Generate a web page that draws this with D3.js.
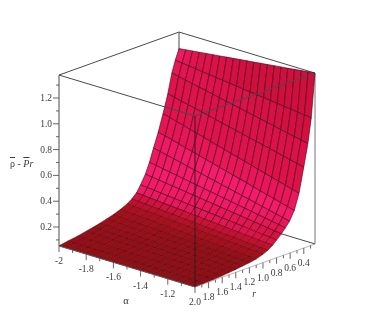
<!DOCTYPE html>
<html><head><meta charset="utf-8">
<script src="https://cdnjs.cloudflare.com/ajax/libs/d3/7.8.5/d3.min.js"></script>
<style>html,body{margin:0;background:#fff}svg{display:block}text{font-family:"Liberation Serif",serif;fill:#3a3a3a}</style>
</head><body><svg id="c" width="374" height="323"></svg>
<script>
const alphaGrid = [-2,-1.95,-1.9,-1.85,-1.8,-1.75,-1.7,-1.65,-1.6,-1.55,-1.5,-1.45,-1.4,-1.35,-1.3,-1.25,-1.2,-1.15,-1.1,-1.05,-1];
const rGrid = [0.235,0.29,0.34,0.40,0.47,0.54,0.61,0.67,0.73,0.80,0.86,0.93,1.00,1.10,1.20,1.30,1.40,1.50,1.60,1.73,1.87,2.00];
// surface height x 1000, one row per rGrid entry, one column per alphaGrid entry
const surfaceMilli = [
[1250,1256,1263,1269,1276,1282,1288,1295,1301,1308,1314,1320,1327,1333,1340,1346,1352,1359,1365,1372,1378],
[1170,1164,1157,1151,1144,1138,1131,1125,1118,1112,1105,1099,1092,1086,1079,1073,1066,1060,1053,1047,1040],
[1080,1069,1057,1046,1034,1023,1011,1000,988,977,965,954,942,931,919,908,896,885,873,862,850],
[930,918,905,893,880,868,855,843,830,818,805,793,780,768,755,743,730,718,705,693,680],
[790,775,760,745,730,715,700,685,670,655,640,625,610,595,580,565,550,535,520,505,490],
[660,646,631,617,602,588,573,559,544,530,515,501,486,472,457,443,428,414,399,385,370],
[550,538,525,513,500,488,475,463,450,438,425,413,400,388,375,363,350,338,325,313,300],
[450,441,431,422,412,403,393,384,374,365,355,346,336,327,317,308,298,289,279,270,260],
[370,363,356,348,341,334,327,319,312,305,298,290,283,276,269,261,254,247,240,232,225],
[300,295,289,284,278,273,267,262,256,251,245,240,234,229,223,218,212,207,201,196,190],
[250,246,241,237,232,228,223,219,214,210,205,201,196,192,187,183,178,174,169,165,160],
[215,211,207,203,199,195,191,187,183,179,175,171,167,163,159,155,151,147,143,139,135],
[190,186,183,179,176,172,168,165,161,158,154,150,147,143,140,136,132,129,125,122,118],
[165,162,159,155,152,149,146,142,139,136,133,129,126,123,120,116,113,110,107,103,100],
[145,142,140,137,134,131,129,126,123,120,118,115,112,109,107,104,101,98,96,93,90],
[130,128,125,123,121,118,116,114,111,109,107,104,102,100,97,95,92,90,88,85,83],
[115,113,111,109,107,105,103,101,99,97,96,94,92,90,88,86,84,82,80,78,76],
[103,101,100,98,96,95,93,91,90,88,87,85,83,82,80,78,77,75,73,72,70],
[92,91,89,88,86,85,84,82,81,79,78,77,75,74,72,71,70,68,67,65,64],
[78,77,76,75,74,73,72,71,70,69,68,68,67,66,65,64,63,62,61,60,59],
[66,66,65,65,64,64,63,63,62,62,61,61,60,60,59,59,58,58,57,57,56],
[55,55,55,55,55,55,54,54,54,54,54,54,54,54,54,54,53,53,53,53,53]
];
const alphaMajor = [-2,-1.8,-1.6,-1.4,-1.2];
const alphaMinor = [-1.9,-1.7,-1.5,-1.3,-1.1];
const rMajor = [2.0,1.8,1.6,1.4,1.2,1.0,0.8,0.6,0.4];
const rMinor = [1.9,1.7,1.5,1.3,1.1,0.9,0.7,0.5,0.3];
const zMajor = [0.2,0.4,0.6,0.8,1.0,1.2];
const zMinor = [0.1,0.3,0.5,0.7,0.9,1.1,1.3];
const alphaRange = [-2,-1], rRange = [2,0.235], zRange = [0.053,1.378];

const xA = d3.scaleLinear().domain(alphaRange).range([59,195]);
const yA = d3.scaleLinear().domain(alphaRange).range([0,41]);
const xR = d3.scaleLinear().domain(rRange).range([0,120]);
const yR = d3.scaleLinear().domain(rRange).range([0,-43]);
const yZ = d3.scaleLinear().domain([0.2,1.2]).range([227,98]);
const P = (a,r,z)=>[xA(a)+xR(r), yA(a)+yR(r)+yZ(z)];

const shade = d3.scaleLinear()
  .domain([0,0.1,0.2,0.32,0.45,0.6,0.85,1.3,2,4])
  .range(["#8e0f15","#960f17","#a5101c","#b81028","#cc1238","#e0164e","#f01a64","#f51d6c","#e2144f","#cf0f3c"])
  .clamp(true);

const svg = d3.select("#c");
const root = svg.append("g").style("filter","blur(0.4px)");
const boxColor = "#4a4a4a";
function seg(p,q,c=boxColor,w=1){root.append("line").attr("x1",p[0]).attr("y1",p[1]).attr("x2",q[0]).attr("y2",q[1]).attr("stroke",c).attr("stroke-width",w);}

const [aL,aH]=alphaRange,[r0,r1]=rRange,[zB,zT]=zRange;
seg(P(aL,r1,zT),P(aL,r1,zB));
seg(P(aL,r0,zT),P(aL,r1,zT));
seg(P(aL,r1,zT),P(aH,r1,zT));
seg(P(aL,r1,zB),P(aH,r1,zB));
seg(P(aH,r1,zT),P(aH,r1,zB),"#777");

const cells=[];
for(let i=0;i<rGrid.length-1;i++)for(let j=0;j<alphaGrid.length-1;j++)cells.push([i,j]);
const Z=(i,j)=>surfaceMilli[i][j]/1000;
root.append("g").selectAll("path").data(cells).join("path")
 .attr("d",([i,j])=>{
   const pts=[P(alphaGrid[j],rGrid[i],Z(i,j)),P(alphaGrid[j+1],rGrid[i],Z(i,j+1)),P(alphaGrid[j+1],rGrid[i+1],Z(i+1,j+1)),P(alphaGrid[j],rGrid[i+1],Z(i+1,j))];
   return d3.line()(pts)+"Z";})
 .attr("fill",([i,j])=>{
   const dr=rGrid[i+1]-rGrid[i];
   const s=((Z(i,j)+Z(i,j+1))-(Z(i+1,j)+Z(i+1,j+1)))/2/dr;
   return shade(s);})
 .attr("stroke",([i,j])=>Z(i,j)<0.22?"rgba(85,5,12,.7)":"rgba(70,0,25,.85)")
 .attr("stroke-width",0.7);

seg(P(aL,r0,zT),P(aH,r0,zT));
seg(P(aH,r0,zT),P(aH,r1,zT));
seg(P(aH,r0,zT),P(aH,r0,zB),"#2e1a1e");
seg(P(aL,r0,zT),P(aL,r0,zB));
seg(P(aL,r0,zB),P(aH,r0,zB),"#555");
seg(P(aH,r0,zB),P(aH,r1,zB),"#888",0.6);

function tick(p,dx,dy){seg(p,[p[0]+dx,p[1]+dy],"#555",0.9);}
const fs=9.5;
alphaMajor.forEach(a=>{const p=P(a,r0,zB);tick(p,0,6);
  root.append("text").attr("x",p[0]).attr("y",p[1]+18).attr("text-anchor","middle").attr("font-size",fs).text(a===-2?"-2":"-"+Math.abs(a).toFixed(1));});
alphaMinor.forEach(a=>tick(P(a,r0,zB),0,3));
rMajor.forEach(r=>{const p=P(aH,r,zB);tick(p,0,6);
  root.append("text").attr("x",p[0]).attr("y",p[1]+18).attr("text-anchor","middle").attr("font-size",fs).text(r.toFixed(1));});
rMinor.forEach(r=>tick(P(aH,r,zB),0,3));
zMajor.forEach(z=>{const y=yZ(z);tick([59,y],-6,0);
  root.append("text").attr("x",52).attr("y",y+3).attr("text-anchor","end").attr("font-size",fs).text(z.toFixed(1));});
zMinor.forEach(z=>tick([59,yZ(z)],-3,0));

root.append("text").attr("x",126).attr("y",304).attr("text-anchor","middle").attr("font-size",10.5).text("α");
root.append("text").attr("x",254).attr("y",297).attr("text-anchor","middle").attr("font-size",9.5).attr("font-style","italic").text("r");
const t=root.append("text").attr("x",10).attr("y",167).attr("font-size",10);
t.append("tspan").style("text-decoration","overline").text("ρ");
t.append("tspan").text(" - ");
t.append("tspan").attr("font-style","italic").style("text-decoration","overline").text("P");
t.append("tspan").attr("font-style","italic").text("r");
</script></body></html>
